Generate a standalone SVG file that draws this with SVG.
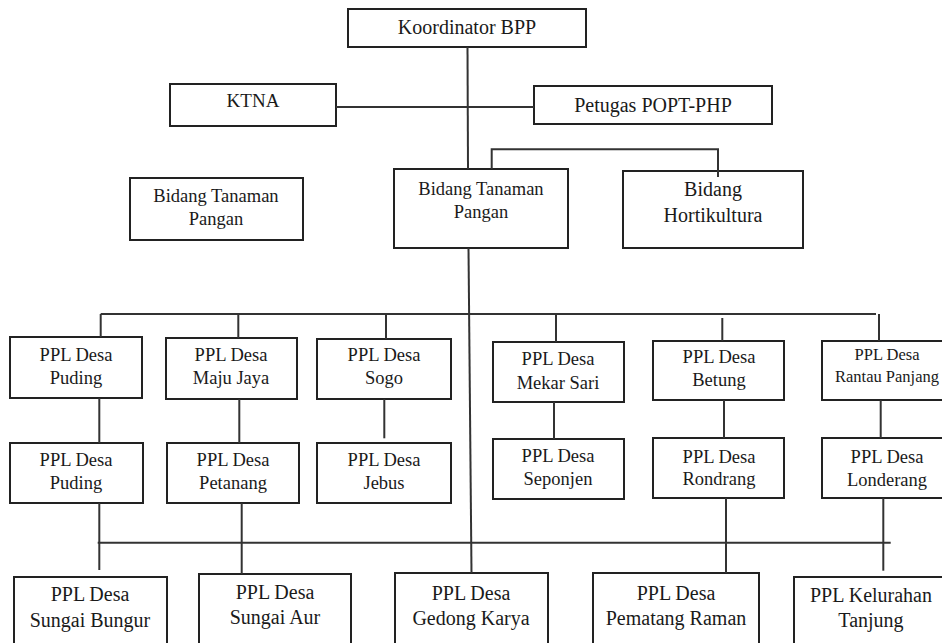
<svg xmlns="http://www.w3.org/2000/svg" width="942" height="643" viewBox="0 0 942 643">
<style>
.box{fill:#fff;stroke:#222;stroke-width:2}
text{font-family:'Liberation Serif','DejaVu Serif',serif;fill:#1a1a1a;text-anchor:middle}
.f20{font-size:20px}.f19{font-size:19px}.f185{font-size:18.5px}.f165{font-size:16.5px}
.c{fill:none;stroke:#333;stroke-width:2}
</style>
<rect width="942" height="643" fill="#fff"/>
<g id="koordinator"><rect class="box" x="348" y="9" width="238" height="38"/><text class="f20" x="467" y="34">Koordinator BPP</text></g>
<g id="ktna"><rect class="box" x="170" y="84" width="166" height="42"/><text class="f19" x="253" y="107">KTNA</text></g>
<g id="petugas"><rect class="box" x="534" y="86" width="238" height="38"/><text class="f20" x="653" y="112">Petugas POPT-PHP</text></g>
<g id="bidang-tp-left"><rect class="box" x="130" y="178" width="173" height="62"/><text class="f185" x="216" y="202">Bidang Tanaman</text><text class="f185" x="216" y="224.5">Pangan</text></g>
<g id="bidang-tp"><rect class="box" x="394" y="169" width="174" height="79"/><text class="f185" x="481" y="195">Bidang Tanaman</text><text class="f185" x="481" y="218">Pangan</text></g>
<g id="bidang-horti"><rect class="box" x="623" y="171" width="180" height="77"/><text class="f20" x="713" y="196">Bidang</text><text class="f20" x="713" y="222">Hortikultura</text></g>
<g id="puding1"><rect class="box" x="10" y="337" width="132" height="61"/><text class="f185" x="76" y="361">PPL Desa</text><text class="f185" x="76" y="384">Puding</text></g>
<g id="majujaya"><rect class="box" x="166" y="338" width="131" height="61"/><text class="f185" x="231" y="361">PPL Desa</text><text class="f185" x="231" y="384">Maju Jaya</text></g>
<g id="sogo"><rect class="box" x="317" y="339" width="134" height="60"/><text class="f185" x="384" y="361">PPL Desa</text><text class="f185" x="384" y="384">Sogo</text></g>
<g id="mekarsari"><rect class="box" x="493" y="342" width="131" height="60"/><text class="f185" x="558" y="365">PPL Desa</text><text class="f185" x="558" y="389">Mekar Sari</text></g>
<g id="betung"><rect class="box" x="653" y="341" width="131" height="59"/><text class="f185" x="719" y="363">PPL Desa</text><text class="f185" x="719" y="386">Betung</text></g>
<g id="rantaupanjang"><rect class="box" x="822" y="341" width="131" height="59"/><text class="f165" x="887" y="360">PPL Desa</text><text class="f165" x="887" y="382">Rantau Panjang</text></g>
<g id="puding2"><rect class="box" x="10" y="443" width="133" height="60"/><text class="f185" x="76" y="466">PPL Desa</text><text class="f185" x="76" y="488.5">Puding</text></g>
<g id="petanang"><rect class="box" x="167" y="443" width="132" height="60"/><text class="f185" x="233" y="466">PPL Desa</text><text class="f185" x="233" y="488.5">Petanang</text></g>
<g id="jebus"><rect class="box" x="317" y="443" width="134" height="60"/><text class="f185" x="384" y="466">PPL Desa</text><text class="f185" x="384" y="488.5">Jebus</text></g>
<g id="seponjen"><rect class="box" x="493" y="439" width="131" height="60"/><text class="f185" x="558" y="462">PPL Desa</text><text class="f185" x="558" y="485">Seponjen</text></g>
<g id="rondrang"><rect class="box" x="653" y="438" width="131" height="60"/><text class="f185" x="719" y="463">PPL Desa</text><text class="f185" x="719" y="485">Rondrang</text></g>
<g id="londerang"><rect class="box" x="822" y="438" width="131" height="60"/><text class="f185" x="887" y="463">PPL Desa</text><text class="f185" x="887" y="486">Londerang</text></g>
<g id="sungaibungur"><rect class="box" x="14" y="577" width="153" height="80"/><text class="f20" x="90" y="601">PPL Desa</text><text class="f20" x="90" y="627">Sungai Bungur</text></g>
<g id="sungaiaur"><rect class="box" x="199" y="574" width="152" height="80"/><text class="f20" x="275" y="598.5">PPL Desa</text><text class="f20" x="275" y="623.5">Sungai Aur</text></g>
<g id="gedongkarya"><rect class="box" x="395" y="573" width="153" height="80"/><text class="f20" x="471" y="600">PPL Desa</text><text class="f20" x="471" y="625">Gedong Karya</text></g>
<g id="pematangraman"><rect class="box" x="593" y="573" width="166" height="80"/><text class="f20" x="676" y="599.5">PPL Desa</text><text class="f20" x="676" y="625">Pematang Raman</text></g>
<g id="kelurahantanjung"><rect class="box" x="794" y="577" width="154" height="80"/><text class="f20" x="871" y="601.5">PPL Kelurahan</text><text class="f20" x="871" y="627">Tanjung</text></g>
<g id="connectors" class="c">
<path d="M467.5 47 L468 169"/>
<path d="M336 107 H534"/>
<path d="M491.7 169 V149.3 H718 V177"/>
<path d="M468.5 248 L471.5 573"/>
<path d="M100.7 314 H876"/>
<path d="M100.7 314 V337"/>
<path d="M238.3 314 V338"/>
<path d="M386 314 V339"/>
<path d="M556 315 V342"/>
<path d="M722.3 318 V341"/>
<path d="M879 314 V341"/>
<path d="M99.3 398 V443"/>
<path d="M239.3 399 V443"/>
<path d="M384.3 399 V438.3"/>
<path d="M554 402 V439"/>
<path d="M724 400 V438"/>
<path d="M880.7 400 V438"/>
<path d="M97.7 542.7 H890.7"/>
<path d="M99.3 503 V570"/>
<path d="M241.7 503 V574"/>
<path d="M726 498 V573"/>
<path d="M883.3 498 V570.7"/>
</g>
</svg>
